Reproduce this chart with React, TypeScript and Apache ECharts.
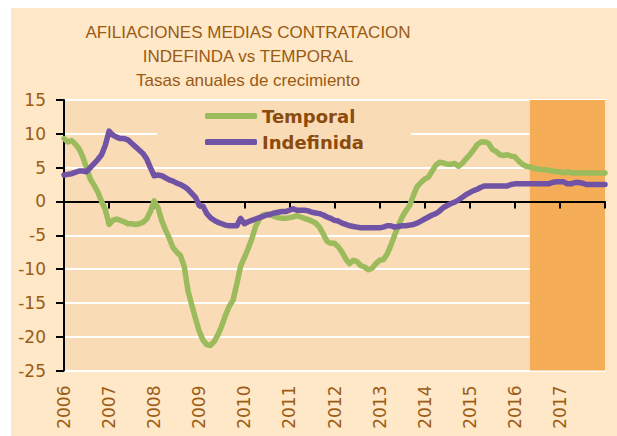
import React, { useEffect, useRef } from "react";
import * as echarts from "echarts";

const yearLabels = ["2006", "2007", "2008", "2009", "2010", "2011", "2012", "2013", "2014", "2015", "2016", "2017"];
const monthNums = ["01", "02", "03", "04", "05", "06", "07", "08", "09", "10", "11", "12"];
const months: string[] = [];
yearLabels.forEach((y) => monthNums.forEach((m) => months.push(`${y}-${m}`)));
months.push("2018-01");

// Tasas anuales de crecimiento (%), mensual 2006-01 .. 2018-01
const temporal = [
  9.3, 8.8, 9.0, 8.5, 7.8, 6.6, 5.0, 3.3, 2.4, 1.4, 0.0, -1.2,
  -3.4, -2.8, -2.6, -2.8, -3.0, -3.3, -3.3, -3.4, -3.3, -3.1, -2.6, -1.5,
  0.1, -0.9, -2.8, -4.2, -5.4, -6.8, -7.5, -8.0, -9.6, -13.2, -15.3, -17.3,
  -19.2, -20.5, -21.2, -21.3, -20.7, -19.7, -18.4, -16.8, -15.5, -14.6, -12.2, -9.6,
  -8.3, -7.0, -5.5, -3.7, -2.6, -2.0, -1.9, -2.0, -2.2, -2.4, -2.5, -2.5,
  -2.4, -2.3, -2.1, -2.3, -2.5, -2.7, -2.9, -3.2, -3.8, -4.8, -5.9, -6.2,
  -6.2, -6.7, -7.5, -8.5, -9.2, -8.7, -8.9, -9.5, -9.7, -10.1, -9.9, -9.2,
  -8.7, -8.6, -7.8, -6.5, -5.0, -3.6, -2.3, -1.4, -0.6, 0.9, 2.2, 2.8,
  3.3, 3.6, 4.5, 5.4, 5.8, 5.7, 5.5, 5.5, 5.6, 5.2, 5.6, 6.3,
  6.9, 7.6, 8.4, 8.8, 8.8, 8.6, 7.7, 7.4, 6.9, 6.8, 6.9, 6.7,
  6.6, 6.0, 5.5, 5.2, 5.1, 4.9, 4.8, 4.7, 4.7, 4.6, 4.5, 4.4,
  4.4, 4.2, 4.4, 4.2, 4.2, 4.2, 4.2, 4.2, 4.2, 4.2, 4.2, 4.2,
  4.2,
];
const indefinida = [
  3.9, 4.0, 4.1, 4.3, 4.5, 4.5, 4.4, 5.0, 5.6, 6.2, 6.9, 8.3,
  10.4, 9.8, 9.5, 9.3, 9.3, 9.1, 8.6, 8.1, 7.6, 7.1, 6.3, 5.0,
  3.8, 3.9, 3.8, 3.5, 3.2, 3.0, 2.7, 2.5, 2.2, 1.8, 1.2, 0.6,
  -0.6, -0.7, -1.8, -2.4, -2.8, -3.1, -3.3, -3.5, -3.6, -3.6, -3.6, -2.5,
  -3.3, -3.0, -2.8, -2.6, -2.4, -2.2, -2.0, -1.9, -1.7, -1.6, -1.5, -1.5,
  -1.3, -1.1, -1.3, -1.3, -1.3, -1.4, -1.6, -1.7, -1.8, -2.0, -2.3, -2.5,
  -2.8, -2.9, -3.2, -3.4, -3.6, -3.7, -3.8, -3.9, -3.9, -3.9, -3.9, -3.9,
  -3.9, -3.8, -3.6, -3.6, -3.8, -3.7, -3.6, -3.6, -3.5, -3.4, -3.2, -2.9,
  -2.6, -2.3, -2.0, -1.8, -1.4, -0.9, -0.6, -0.3, -0.1, 0.2, 0.6, 1.0,
  1.3, 1.6, 1.8, 2.1, 2.3, 2.3, 2.3, 2.3, 2.3, 2.3, 2.3, 2.5,
  2.6, 2.6, 2.6, 2.6, 2.6, 2.6, 2.6, 2.6, 2.6, 2.6, 2.8, 2.9,
  2.9, 2.9, 2.6, 2.6, 2.8, 2.8, 2.7, 2.5, 2.5, 2.5, 2.5, 2.5,
  2.5,
];
const forecastStart = "2016-05";
const forecastEnd = "2018-01";
const titleLines = ["AFILIACIONES MEDIAS CONTRATACION", "INDEFINDA vs TEMPORAL", "Tasas anuales de crecimiento"];

const isYearStart = (idx: number) => idx % 12 === 0;

export default function App() {
  const ref = useRef<HTMLDivElement>(null);
  useEffect(() => {
    if (!ref.current) return;
    const chart = echarts.init(ref.current, null, { renderer: "svg" });
    const labelFont = "'DejaVu Sans', sans-serif";
    const titleFont = "'Liberation Sans', Arial, sans-serif";
    chart.setOption({
      animation: false,
      backgroundColor: "#FEE8C7",
      graphic: titleLines.map((t, i) => ({
        type: "text",
        x: 237,
        y: 24 + i * 24,
        z: 10,
        style: {
          text: t,
          font: `17px ${titleFont}`,
          fill: "#9A5A14",
          textAlign: "center",
          textVerticalAlign: "middle",
        },
      })),
      grid: {
        left: 53,
        right: 12,
        top: 92,
        bottom: 65.5,
        show: true,
        backgroundColor: "#F9DBB5",
        borderWidth: 0,
      },
      legend: {
        orient: "vertical",
        left: 146,
        top: 96,
        padding: [2, 47, 8, 48],
        backgroundColor: "#F9DBB5",
        itemWidth: 52,
        itemHeight: 6,
        itemGap: 6,
        icon: "roundRect",
        data: ["Temporal", "Indefinida"],
        textStyle: {
          fontFamily: labelFont,
          fontWeight: "bold",
          fontSize: 18,
          lineHeight: 20,
          color: "#8A4B0C",
        },
      },
      xAxis: [
        {
          type: "category",
          data: months,
          boundaryGap: false,
          position: "bottom",
          axisLine: { show: false, onZero: false },
          axisTick: { show: false },
          splitLine: { show: false },
          axisLabel: {
            interval: (idx: number) => isYearStart(idx) && idx < 144,
            formatter: (v: string) => v.slice(0, 4),
            rotate: 90,
            margin: 15,
            fontFamily: labelFont,
            fontSize: 17,
            color: "#9C5C16",
          },
        },
        {
          type: "category",
          data: months,
          boundaryGap: false,
          position: "bottom",
          z: 3,
          axisLine: { show: true, onZero: true, lineStyle: { color: "#000", width: 2 } },
          axisTick: {
            show: true,
            interval: (idx: number) => isYearStart(idx),
            length: 7,
            lineStyle: { color: "#000", width: 2 },
          },
          axisLabel: { show: false },
          splitLine: { show: false },
        },
      ],
      yAxis: {
        type: "value",
        min: -25,
        max: 15,
        interval: 5,
        axisLine: { show: true, onZero: false, lineStyle: { color: "#000", width: 2 } },
        axisTick: { show: true, length: 8, lineStyle: { color: "#000", width: 2 } },
        axisLabel: { margin: 18, fontFamily: labelFont, fontSize: 17, color: "#9C5C16" },
        splitLine: { show: true, lineStyle: { color: "#FFFFFF", width: 2 } },
      },
      series: [
        {
          name: "forecast",
          type: "line",
          z: 1,
          data: months.map(() => null),
          silent: true,
          markArea: {
            silent: true,
            itemStyle: { color: "#F5AD58" },
            data: [[{ xAxis: forecastStart }, { xAxis: forecastEnd }]],
          },
        },
        {
          name: "Temporal",
          type: "line",
          z: 4,
          data: temporal,
          showSymbol: false,
          color: "#9BBB5C",
          lineStyle: { width: 5.5, color: "#9BBB5C", cap: "round", join: "round" },
        },
        {
          name: "Indefinida",
          type: "line",
          z: 5,
          data: indefinida,
          showSymbol: false,
          color: "#7053A5",
          lineStyle: { width: 5.5, color: "#7053A5", cap: "round", join: "round" },
        },
      ],
    });
    return () => chart.dispose();
  }, []);
  return (
    <div
      ref={ref}
      style={{ position: "fixed", left: 11, top: 8, width: 606, height: 428 }}
    />
  );
}
